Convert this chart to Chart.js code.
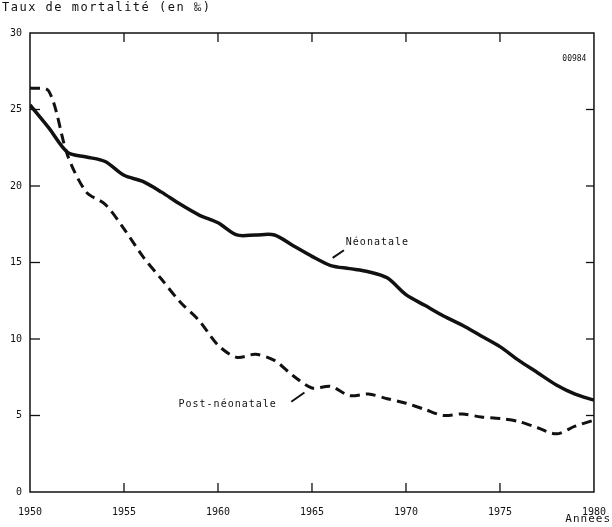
<!DOCTYPE html>
<html>
<head>
<meta charset="utf-8">
<script src="https://cdn.jsdelivr.net/npm/chart.js@4"></script>
<style>
  html, body { margin: 0; padding: 0; background: #fff; }
  #wrap { width: 612px; height: 527px; }
</style>
</head>
<body>
<div id="wrap"><canvas id="chart" width="612" height="527"></canvas></div>
<script>
// donnees (taux pour 1000)
const annees = [1950, 1951, 1952, 1953, 1954, 1955, 1956, 1957, 1958, 1959, 1960,
  1961, 1962, 1963, 1964, 1965, 1966, 1967, 1968, 1969, 1970,
  1971, 1972, 1973, 1974, 1975, 1976, 1977, 1978, 1979, 1980];
const neonatale = [25.3, 23.8, 22.2, 21.9, 21.6, 20.7, 20.3, 19.6, 18.8, 18.1, 17.6,
  16.8, 16.8, 16.8, 16.1, 15.4, 14.8, 14.6, 14.4, 14.0, 12.9,
  12.2, 11.5, 10.9, 10.2, 9.5, 8.6, 7.8, 7.0, 6.4, 6.0];
const postNeonatale = [26.4, 26.2, 22.0, 19.6, 18.8, 17.2, 15.4, 13.9, 12.4, 11.2, 9.6,
  8.8, 9.0, 8.6, 7.6, 6.8, 6.9, 6.3, 6.4, 6.1, 5.8,
  5.4, 5.0, 5.1, 4.9, 4.8, 4.6, 4.2, 3.8, 4.3, 4.7];
const ticksX = [1950, 1955, 1960, 1965, 1970, 1975, 1980];
const ticksY = [0, 5, 10, 15, 20, 25, 30];

const encre = '#111';
const police = '"DejaVu Sans Mono", monospace';

function points(ys) {
  return annees.map((a, i) => ({ x: a, y: ys[i] }));
}

// cadre, petites graduations vers l'interieur et textes
const cadre = {
  id: 'cadre',
  afterDraw(chart) {
    const ctx = chart.ctx;
    const a = chart.chartArea;
    const sx = chart.scales.x, sy = chart.scales.y;
    ctx.save();
    ctx.strokeStyle = encre;
    ctx.lineWidth = 1.5;
    ctx.strokeRect(a.left, a.top, a.right - a.left, a.bottom - a.top);
    ctx.lineWidth = 1.3;
    ticksX.slice(1, -1).forEach(t => {
      const px = sx.getPixelForValue(t);
      ctx.beginPath(); ctx.moveTo(px, a.bottom); ctx.lineTo(px, a.bottom - 9); ctx.stroke();
      ctx.beginPath(); ctx.moveTo(px, a.top); ctx.lineTo(px, a.top + 9); ctx.stroke();
    });
    ticksY.slice(1, -1).forEach(t => {
      const py = sy.getPixelForValue(t);
      ctx.beginPath(); ctx.moveTo(a.left, py); ctx.lineTo(a.left + 10, py); ctx.stroke();
      ctx.beginPath(); ctx.moveTo(a.right, py); ctx.lineTo(a.right - 8, py); ctx.stroke();
    });

    ctx.fillStyle = encre;
    ctx.textBaseline = 'middle';
    ctx.letterSpacing = '1.5px';
    ctx.font = '12px ' + police;
    ctx.textAlign = 'left';
    ctx.fillText('Taux de mortalité (en ‰)', 2, 8);
    ctx.letterSpacing = '1px';
    ctx.font = '11px ' + police;
    ctx.textAlign = 'right';
    ctx.fillText('Années', 611, 519);

    ctx.font = '10px ' + police;
    ctx.textAlign = 'left';
    ctx.fillText('Néonatale', sx.getPixelForValue(1966.8), sy.getPixelForValue(16.3));
    ctx.fillText('Post-néonatale', sx.getPixelForValue(1957.9), sy.getPixelForValue(5.7));
    ctx.letterSpacing = '0px';
    ctx.font = '8px ' + police;
    ctx.textAlign = 'right';
    ctx.fillText('00984', sx.getPixelForValue(1979.6), sy.getPixelForValue(28.3));

    ctx.lineWidth = 2;
    ctx.beginPath();
    ctx.moveTo(sx.getPixelForValue(1966.1), sy.getPixelForValue(15.3));
    ctx.lineTo(sx.getPixelForValue(1966.7), sy.getPixelForValue(15.8));
    ctx.stroke();
    ctx.beginPath();
    ctx.moveTo(sx.getPixelForValue(1963.9), sy.getPixelForValue(5.9));
    ctx.lineTo(sx.getPixelForValue(1964.6), sy.getPixelForValue(6.5));
    ctx.stroke();
    ctx.restore();
  }
};

new Chart(document.getElementById('chart'), {
  type: 'line',
  data: {
    datasets: [
      {
        label: 'Néonatale',
        data: points(neonatale),
        borderColor: encre,
        borderWidth: 3.5,
        pointRadius: 0,
        tension: 0.3,
        fill: false
      },
      {
        label: 'Post-néonatale',
        data: points(postNeonatale),
        borderColor: encre,
        borderWidth: 3,
        borderDash: [10, 6],
        pointRadius: 0,
        tension: 0.3,
        fill: false
      }
    ]
  },
  options: {
    responsive: false,
    animation: false,
    layout: { padding: { top: 33, right: 17, left: 0, bottom: 0 } },
    plugins: {
      legend: { display: false },
      tooltip: { enabled: false }
    },
    scales: {
      x: {
        type: 'linear',
        min: 1950,
        max: 1980,
        afterBuildTicks: s => { s.ticks = ticksX.map(v => ({ value: v })); },
        afterFit: s => { s.height = 35; },
        grid: { display: false },
        border: { display: false },
        ticks: {
          color: encre,
          font: { family: police, size: 10 },
          padding: 6,
          maxRotation: 0,
          callback: v => String(v)
        }
      },
      y: {
        min: 0,
        max: 30,
        afterBuildTicks: s => { s.ticks = ticksY.map(v => ({ value: v })); },
        afterFit: s => { s.width = 30; },
        grid: { display: false },
        border: { display: false },
        ticks: {
          color: encre,
          font: { family: police, size: 10 },
          padding: 0
        }
      }
    }
  },
  plugins: [cadre]
});
</script>
</body>
</html>
